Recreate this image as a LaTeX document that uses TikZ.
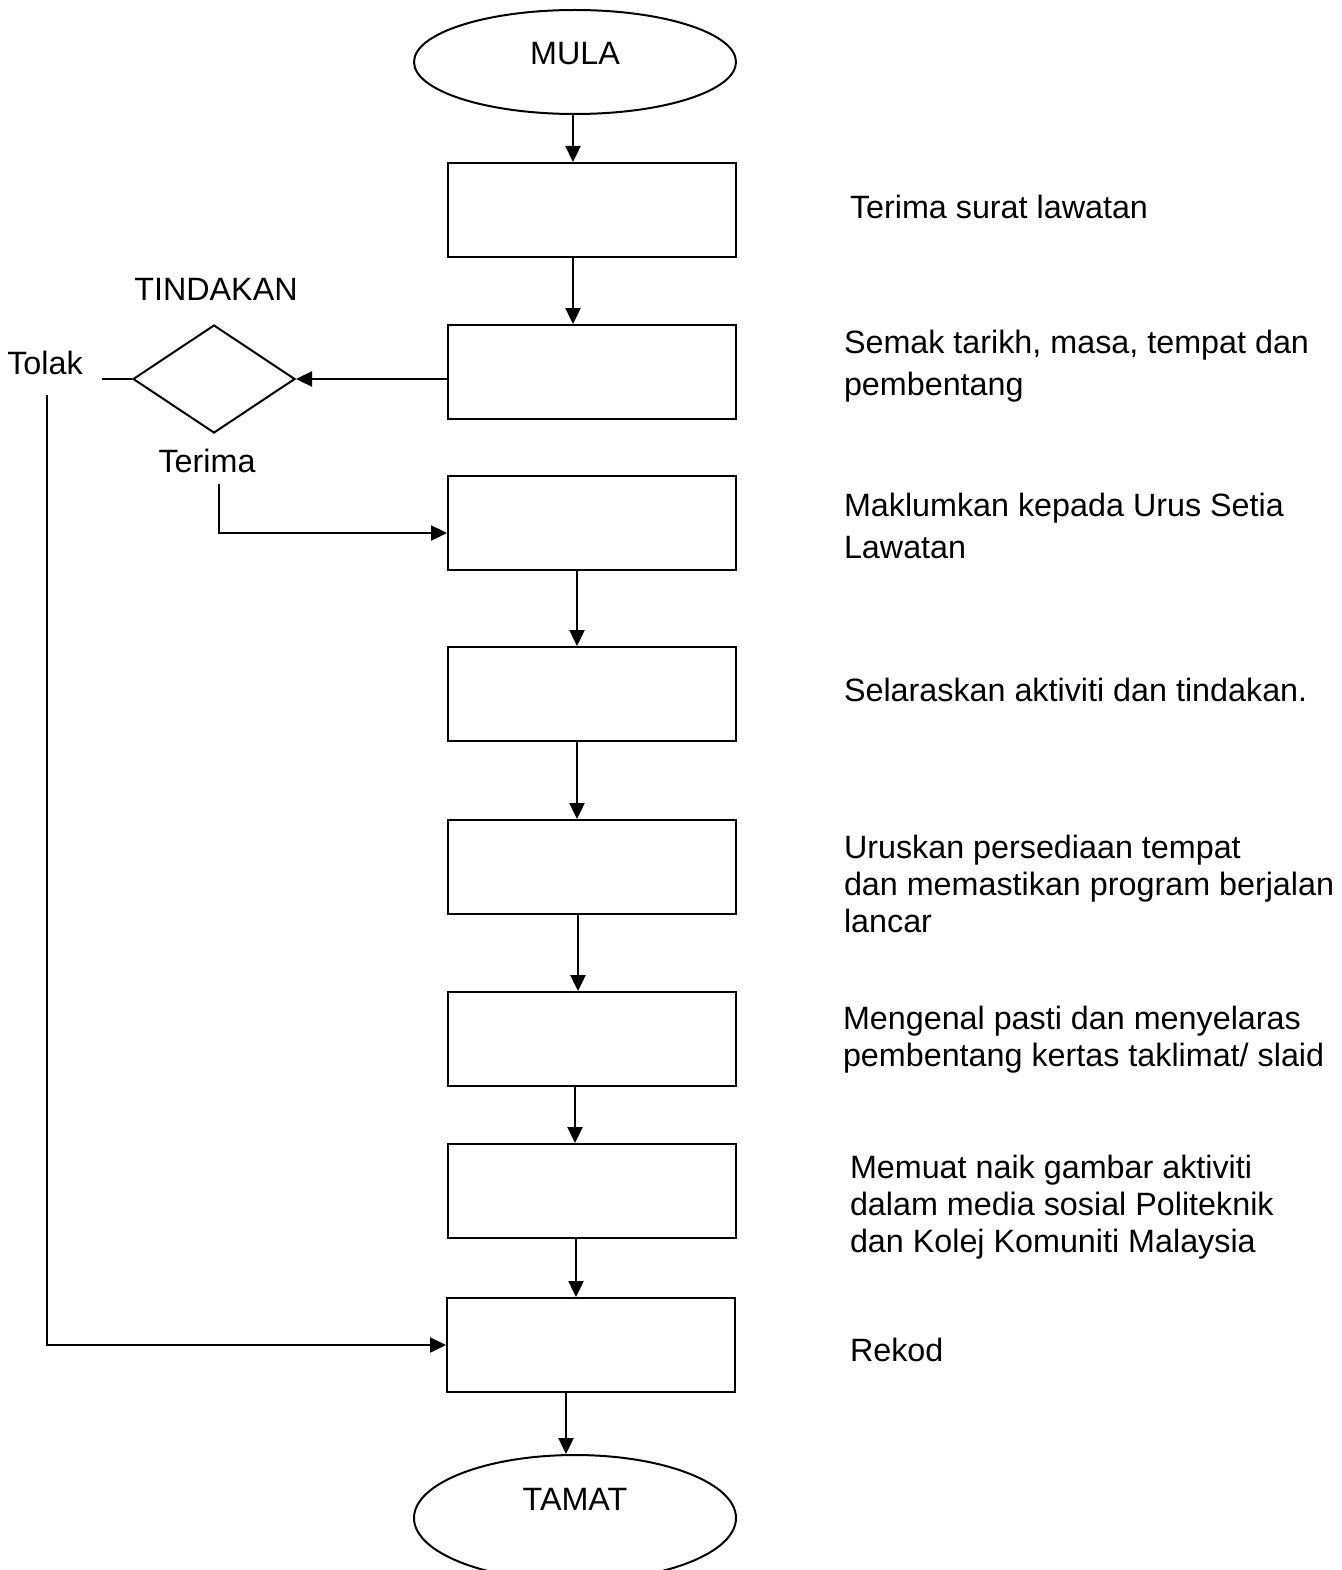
\documentclass[tikz,border=0pt]{standalone}
\usepackage{fontspec}
\setmainfont{Liberation Sans}
\usetikzlibrary{shapes.geometric,arrows.meta}

\begin{document}
\begin{tikzpicture}[x=1pt,y=-1pt,line width=2pt,
	font=\fontsize{32.3}{42}\selectfont,
	kotak/.style={draw,minimum width=288pt,minimum height=94pt,inner sep=0pt},
	bujur/.style={draw,ellipse,minimum width=322pt,inner sep=0pt},
	arr/.style={-{Triangle[length=16pt,width=15pt]},line width=2.4pt},
	nota/.style={anchor=west,align=left,inner sep=0pt}]
	\useasboundingbox (0,0) rectangle (1341,1570);
	% terminal
	\node[bujur,minimum height=104pt,label={[yshift=8pt]center:MULA}] (mula) at (575,62) {};
	\node[bujur,minimum height=126pt,label={[yshift=19pt]center:TAMAT}] (tamat) at (575,1518) {};
	% kotak proses
	\node[kotak] (b1) at (592,210) {};
	\node[kotak] (b2) at (592,372) {};
	\node[kotak] (b3) at (592,523) {};
	\node[kotak] (b4) at (592,694) {};
	\node[kotak] (b5) at (592,867) {};
	\node[kotak] (b6) at (592,1039) {};
	\node[kotak] (b7) at (592,1191) {};
	\node[kotak] (b8) at (591,1345) {};
	% keputusan
	\node[draw,diamond,aspect=1.5,minimum width=162pt,minimum height=108pt,inner sep=0pt] (putus) at (214,379) {};
	\node (tindakan) at (216,289) {TINDAKAN};
	\node (tolak) at (45,363) {Tolak};
	\node (terima) at (207,461) {Terima};
	\coordinate (t1) at (219,484);
	\coordinate (t2) at (47,395);
	% nota
	\node[nota] (n1) at (849,207) {Terima surat lawatan};
	\node[nota] (n2) at (843,366) {Semak tarikh, masa, tempat dan\\pembentang};
	\node[nota] (n3) at (843,526) {Maklumkan kepada Urus Setia\\Lawatan};
	\node[nota] (n4) at (843,690) {Selaraskan aktiviti dan tindakan.};
	\node[nota,font=\fontsize{32.3}{37}\selectfont] (n5) at (843,884) {Uruskan persediaan tempat\\dan memastikan program berjalan\\lancar};
	\node[nota,font=\fontsize{32.3}{37}\selectfont] (n6) at (842,1040) {Mengenal pasti dan menyelaras\\pembentang kertas taklimat/ slaid};
	\node[nota,font=\fontsize{32.3}{37}\selectfont] (n7) at (849,1207) {Memuat naik gambar aktiviti\\dalam media sosial Politeknik\\dan Kolej Komuniti Malaysia};
	\node[nota] (n8) at (849,1350) {Rekod};
	% aliran
	\draw[arr] ([xshift=-19pt]b1.north |- mula.south) -- ([xshift=-19pt]b1.north);
	\draw[arr] ([xshift=-19pt]b1.south) -- ([xshift=-19pt]b2.north);
	\draw[arr] (b2.west |- putus.east) -- (putus.east);
	\draw[arr] (t1) |- ([yshift=-10pt]b3.west);
	\draw (putus.west) -- ++(-30,0);
	\draw[arr] (t2) |- (b8.west);
	\draw[arr] ([xshift=-15pt]b3.south) -- ([xshift=-15pt]b4.north);
	\draw[arr] ([xshift=-15pt]b4.south) -- ([xshift=-15pt]b5.north);
	\draw[arr] ([xshift=-14pt]b5.south) -- ([xshift=-14pt]b6.north);
	\draw[arr] ([xshift=-17pt]b6.south) -- ([xshift=-17pt]b7.north);
	\draw[arr] ([xshift=-16pt]b7.south) -- ([xshift=-16pt]b7.south |- b8.north);
	\draw[arr] ([xshift=-25pt]b8.south) -- ([xshift=-25pt]b8.south |- tamat.north);
\end{tikzpicture}
\end{document}
